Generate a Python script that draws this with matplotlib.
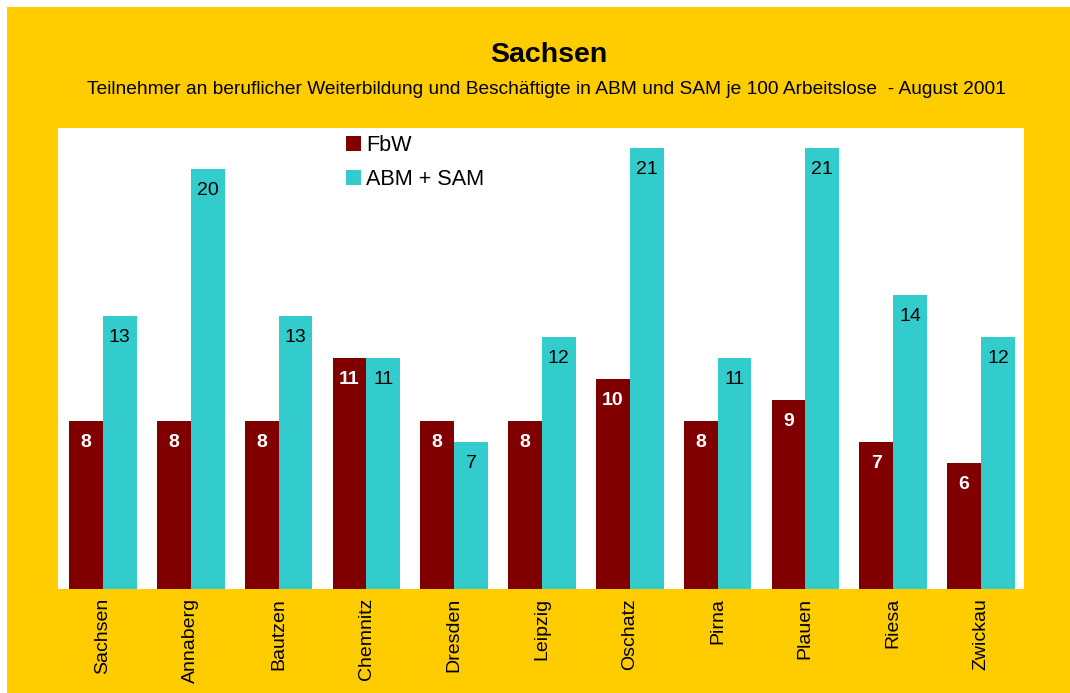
import numpy as np
import matplotlib.pyplot as plt
from matplotlib.patches import Rectangle

plt.rcParams['font.family'] = ['Liberation Sans', 'DejaVu Sans']

# Daten
orte = ['Sachsen', 'Annaberg', 'Bautzen', 'Chemnitz', 'Dresden', 'Leipzig',
        'Oschatz', 'Pirna', 'Plauen', 'Riesa', 'Zwickau']
fbw = [8, 8, 8, 11, 8, 8, 10, 8, 9, 7, 6]
abm_sam = [13, 20, 13, 11, 7, 12, 21, 11, 21, 14, 12]

gelb = '#FFCC00'
rot = '#800000'
tuerkis = '#33CCCC'

fig = plt.figure(figsize=(10.7, 6.93), dpi=100, facecolor='white')
# gelber Hintergrund (schmaler weisser Rand oben und links)
fig.patches.append(Rectangle((7 / 1070, 0), 1, 1 - 7 / 693, transform=fig.transFigure,
                             facecolor=gelb, edgecolor='none', zorder=-10))

ax = fig.add_axes([58 / 1070, 1 - 589 / 693, 966 / 1070, 461 / 693])
ax.set_facecolor('white')

x = np.arange(len(orte))
w = 0.385
b1 = ax.bar(x - w / 2, fbw, w, color=rot, label='FbW')
b2 = ax.bar(x + w / 2, abm_sam, w, color=tuerkis, label='ABM + SAM')

# Werte in die Balken schreiben
for rect, v in zip(b1, fbw):
    ax.annotate(str(v), (rect.get_x() + rect.get_width() / 2, v),
                xytext=(0, -15.5), textcoords='offset points',
                ha='center', va='center', color='white', fontweight='bold', fontsize=14)
for rect, v in zip(b2, abm_sam):
    ax.annotate(str(v), (rect.get_x() + rect.get_width() / 2, v),
                xytext=(0, -15.5), textcoords='offset points',
                ha='center', va='center', color='black', fontsize=14)

ax.set_xlim(-0.512, 10.49)
ax.set_ylim(0, 21.95)
ax.set_yticks([])
ax.set_xticks(x)
ax.set_xticklabels(orte, rotation=90, fontsize=14)
ax.tick_params(axis='x', length=0, pad=6.5)
for s in ax.spines.values():
    s.set_visible(False)

ax.legend(loc='upper left', bbox_to_anchor=(0.298, 0.985), frameon=False, fontsize=15.6,
          borderaxespad=0, borderpad=0, handlelength=0.7, handleheight=0.7,
          handletextpad=0.25, labelspacing=0.62)

fig.text(549 / 1070, 1 - 55 / 693, 'Sachsen', ha='center', va='center',
         fontsize=20.5, fontweight='bold')
fig.text(546 / 1070, 1 - 89 / 693,
         'Teilnehmer an beruflicher Weiterbildung und Beschäftigte in ABM und SAM je 100 Arbeitslose  - August 2001',
         ha='center', va='center', fontsize=13.75)

fig.savefig('out.png', dpi=100, facecolor=fig.get_facecolor())
